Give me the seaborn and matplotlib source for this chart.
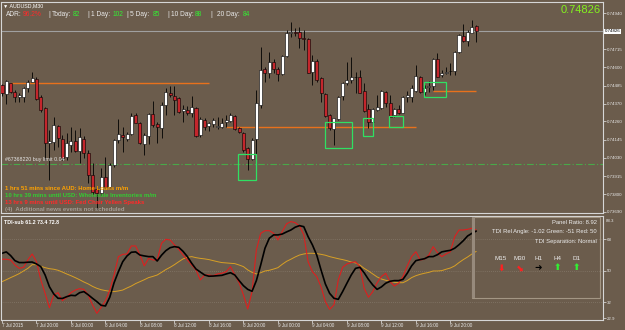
import matplotlib
matplotlib.use("Agg")
import matplotlib.pyplot as plt
from matplotlib.patches import Rectangle
import numpy as np
import seaborn as sns

BG = "#6b5c4c"
FG = "#e8e8e8"

sns.set_theme(style="dark", rc={"axes.facecolor": BG, "figure.facecolor": BG,
                                "axes.edgecolor": "#d6d6d6", "axes.grid": False})
plt.rcParams["font.family"] = ["Liberation Sans", "DejaVu Sans"]

# AUDUSD M30 candles, 7 Jul 2015 16:00 .. 9 Jul 2015 23:00
open_ = [0.74489, 0.74432, 0.74501, 0.74445, 0.74413, 0.74413, 0.74470, 0.74507, 0.74526, 0.74413,
         0.74344, 0.74124, 0.74130, 0.74231, 0.74149, 0.74036, 0.74111, 0.74136, 0.74073, 0.74149,
         0.74061, 0.73922, 0.73834, 0.73809, 0.73910, 0.73847, 0.73985, 0.74143, 0.74174, 0.74149,
         0.74180, 0.74300, 0.74250, 0.74117, 0.74168, 0.74306, 0.74243, 0.74218, 0.74363, 0.74438,
         0.74419, 0.74407, 0.74325, 0.74331, 0.74312, 0.74344, 0.74174, 0.74268, 0.74231, 0.74243,
         0.74224, 0.74224, 0.74256, 0.74262, 0.74294, 0.74218, 0.74187, 0.74092, 0.74023, 0.74149,
         0.74363, 0.74589, 0.74564, 0.74633, 0.74589, 0.74558, 0.74671, 0.74816, 0.74822, 0.74822,
         0.74784, 0.74778, 0.74570, 0.74640, 0.74533, 0.74432, 0.74300, 0.74212, 0.74275, 0.74419,
         0.74501, 0.74520, 0.74536, 0.74539, 0.74451, 0.74338, 0.74256, 0.74331, 0.74344, 0.74445,
         0.74375, 0.74300, 0.74338, 0.74312, 0.74413, 0.74413, 0.74451, 0.74539, 0.74445, 0.74476,
         0.74482, 0.74652, 0.74551, 0.74567, 0.74577, 0.74577, 0.74696, 0.74797, 0.74765, 0.74816,
         0.74860]
high_ = [0.74495, 0.74520, 0.74501, 0.74457, 0.74438, 0.74476, 0.74520, 0.74570, 0.74539, 0.74426,
         0.74350, 0.74206, 0.74287, 0.74237, 0.74174, 0.74187, 0.74224, 0.74206, 0.74218, 0.74168,
         0.74080, 0.73998, 0.73853, 0.73966, 0.74036, 0.73998, 0.74149, 0.74275, 0.74224, 0.74193,
         0.74312, 0.74312, 0.74256, 0.74187, 0.74312, 0.74388, 0.74256, 0.74382, 0.74470, 0.74482,
         0.74482, 0.74413, 0.74363, 0.74356, 0.74419, 0.74350, 0.74287, 0.74281, 0.74256, 0.74281,
         0.74287, 0.74281, 0.74300, 0.74312, 0.74300, 0.74224, 0.74193, 0.74099, 0.74155, 0.74457,
         0.74728, 0.74602, 0.74696, 0.74652, 0.74602, 0.74677, 0.74835, 0.74885, 0.74847, 0.74853,
         0.74835, 0.74784, 0.74677, 0.74652, 0.74539, 0.74438, 0.74306, 0.74281, 0.74419, 0.74507,
         0.74633, 0.74665, 0.74570, 0.74583, 0.74501, 0.74369, 0.74344, 0.74426, 0.74457, 0.74451,
         0.74426, 0.74344, 0.74363, 0.74419, 0.74451, 0.74489, 0.74614, 0.74545, 0.74489, 0.74514,
         0.74658, 0.74690, 0.74583, 0.74602, 0.74627, 0.74702, 0.74809, 0.74872, 0.74835, 0.74897,
         0.74866]
low_ = [0.74419, 0.74369, 0.74438, 0.74382, 0.74382, 0.74382, 0.74445, 0.74507, 0.74394, 0.74319,
        0.74017, 0.73891, 0.74080, 0.74099, 0.74017, 0.74017, 0.74067, 0.74067, 0.73998, 0.74029,
        0.73872, 0.73803, 0.73702, 0.73797, 0.73841, 0.73841, 0.73973, 0.74124, 0.74067, 0.74136,
        0.74174, 0.74250, 0.74117, 0.74048, 0.74117, 0.74224, 0.74124, 0.74155, 0.74300, 0.74413,
        0.74300, 0.74312, 0.74256, 0.74300, 0.74287, 0.74161, 0.74161, 0.74206, 0.74199, 0.74224,
        0.74212, 0.74218, 0.74224, 0.74256, 0.74206, 0.74187, 0.74067, 0.73954, 0.74017, 0.73922,
        0.74344, 0.74507, 0.74533, 0.74564, 0.74514, 0.74551, 0.74665, 0.74790, 0.74797, 0.74721,
        0.74709, 0.74564, 0.74489, 0.74507, 0.74382, 0.74287, 0.74206, 0.74111, 0.74268, 0.74394,
        0.74489, 0.74501, 0.74438, 0.74438, 0.74319, 0.74218, 0.74250, 0.74325, 0.74338, 0.74350,
        0.74287, 0.74287, 0.74306, 0.74312, 0.74382, 0.74382, 0.74445, 0.74438, 0.74426, 0.74445,
        0.74457, 0.74539, 0.74539, 0.74558, 0.74551, 0.74551, 0.74690, 0.74759, 0.74734, 0.74816,
        0.74759]
close_ = [0.74438, 0.74514, 0.74445, 0.74413, 0.74426, 0.74470, 0.74507, 0.74533, 0.74400, 0.74331,
          0.74124, 0.74136, 0.74237, 0.74155, 0.74029, 0.74124, 0.74136, 0.74073, 0.74161, 0.74061,
          0.73922, 0.73815, 0.73809, 0.73910, 0.73847, 0.73985, 0.74143, 0.74180, 0.74161, 0.74180,
          0.74294, 0.74250, 0.74124, 0.74174, 0.74306, 0.74237, 0.74224, 0.74363, 0.74445, 0.74426,
          0.74394, 0.74319, 0.74338, 0.74312, 0.74350, 0.74168, 0.74275, 0.74224, 0.74250, 0.74268,
          0.74231, 0.74250, 0.74268, 0.74300, 0.74212, 0.74193, 0.74080, 0.74023, 0.74143, 0.74375,
          0.74583, 0.74564, 0.74633, 0.74589, 0.74558, 0.74671, 0.74816, 0.74822, 0.74816, 0.74784,
          0.74778, 0.74564, 0.74640, 0.74520, 0.74438, 0.74294, 0.74218, 0.74281, 0.74413, 0.74501,
          0.74520, 0.74539, 0.74539, 0.74438, 0.74325, 0.74256, 0.74338, 0.74350, 0.74451, 0.74375,
          0.74287, 0.74338, 0.74312, 0.74413, 0.74426, 0.74470, 0.74545, 0.74445, 0.74470, 0.74482,
          0.74652, 0.74539, 0.74564, 0.74570, 0.74577, 0.74696, 0.74803, 0.74765, 0.74822, 0.74853,
          0.74826]

# TDI sub-window: price line (red), signal (black), market base (yellow)
tdi_red = [56.7, 56.7, 56.3, 53.4, 51.5, 52.1, 56.3, 59.7, 55.3, 44.9,
           37.2, 29.0, 36.3, 37.6, 33.0, 35.0, 37.6, 39.1, 39.9, 39.5,
           36.3, 30.6, 25.8, 29.2, 33.0, 39.1, 47.7, 58.2, 59.5, 59.7,
           64.3, 64.3, 59.1, 52.9, 57.2, 56.3, 56.3, 65.8, 68.1, 67.7,
           64.9, 62.4, 59.1, 56.3, 53.4, 50.6, 44.9, 47.7, 47.7, 47.3,
           48.3, 48.7, 49.6, 52.5, 47.7, 43.3, 36.3, 28.3, 38.2, 62.0,
           71.5, 73.0, 73.0, 71.5, 67.7, 72.5, 76.9, 78.2, 77.6, 75.7,
           70.6, 55.3, 49.6, 46.8, 41.0, 32.5, 28.1, 30.6, 44.9, 52.1,
           54.0, 54.8, 55.3, 52.5, 40.1, 35.0, 38.2, 43.3, 46.8, 48.7,
           43.9, 41.4, 43.0, 46.8, 52.9, 58.2, 61.0, 56.3, 56.7, 59.1,
           63.9, 60.5, 58.2, 59.7, 61.0, 69.6, 73.4, 73.4, 73.8, 74.4, 73.4]
tdi_black = [60.1, 60.9, 58.8, 55.9, 54.8, 54.8, 55.0, 55.1, 54.0, 52.5,
             47.7, 41.0, 36.9, 34.4, 34.3, 35.3, 36.1, 35.9, 37.6, 38.2,
             36.4, 34.4, 32.5, 30.4, 30.0, 35.0, 43.3, 49.6, 55.3, 58.6,
             60.7, 60.9, 59.1, 58.6, 58.2, 58.2, 55.7, 59.0, 61.6, 63.3,
             63.9, 63.5, 61.2, 58.2, 54.4, 51.1, 49.4, 47.7, 47.0, 47.1,
             47.3, 47.5, 48.3, 49.0, 47.7, 44.5, 41.6, 39.5, 38.4, 44.5,
             53.4, 63.0, 68.7, 70.6, 70.6, 71.1, 72.3, 73.4, 75.0, 75.9,
             75.3, 69.6, 64.9, 59.1, 50.6, 42.6, 37.2, 34.4, 33.8, 38.2,
             43.0, 47.7, 51.5, 52.1, 49.0, 45.2, 42.0, 39.5, 40.9, 43.0,
             44.1, 44.5, 44.5, 45.2, 48.7, 52.9, 55.9, 56.5, 57.0, 58.2,
             58.2, 59.3, 60.9, 61.4, 61.8, 63.0, 65.0, 67.3, 70.0, 71.5, 72.8]
tdi_yellow = [43.9, 45.0, 46.2, 47.3, 48.5, 50.0, 51.5, 53.6, 53.6, 52.7,
              51.9, 51.3, 51.0, 50.4, 49.4, 48.3, 47.3, 46.2, 45.0, 43.7,
              42.6, 41.2, 40.1, 39.3, 38.8, 38.4, 38.2, 38.6, 39.1, 40.3,
              41.4, 42.8, 43.9, 45.0, 46.2, 46.9, 47.7, 49.2, 50.8, 52.1,
              53.6, 55.3, 56.9, 57.8, 58.2, 57.6, 57.2, 56.9, 56.5, 55.9,
              55.3, 54.8, 54.6, 54.4, 54.2, 53.4, 52.5, 50.6, 49.2, 48.3,
              49.0, 50.0, 50.4, 51.1, 51.9, 53.8, 55.5, 56.7, 58.0, 59.1,
              59.7, 60.1, 60.1, 59.9, 59.5, 59.0, 58.2, 57.6, 57.0, 56.5,
              55.9, 55.1, 54.6, 53.4, 51.5, 50.0, 48.3, 46.6, 45.4, 44.7,
              44.1, 43.5, 43.3, 43.3, 44.5, 46.2, 47.3, 48.1, 48.7, 49.2,
              50.0, 50.0, 50.2, 51.0, 51.7, 52.9, 54.8, 56.5, 58.0, 59.7, 61.2]
tdi_levels = [68, 50, 32]

time_ticks = [0, 8, 16, 24, 32, 40, 48, 56, 64, 72, 80, 88, 96, 104]
time_labels = ["7 Jul 2015", "7 Jul 20:00", "8 Jul 00:00", "8 Jul 04:00", "8 Jul 08:00",
               "8 Jul 12:00", "8 Jul 16:00", "8 Jul 20:00", "9 Jul 00:00", "9 Jul 04:00",
               "9 Jul 08:00", "9 Jul 12:00", "9 Jul 16:00", "9 Jul 20:00"]
price_ticks = [0.74940, 0.74715, 0.74600, 0.74485, 0.74370, 0.74260,
               0.74145, 0.74030, 0.73915, 0.73800, 0.73690]
price_labels = ["0.74940", "0.74715", "0.74600", "0.74485", "0.74370", "0.74260",
                "0.74145", "0.74030", "0.73915", "0.73800", "0.73690"]

# horizontal levels (orange), supply/demand boxes (green), pending order
level_price = [0.74499, 0.74226, 0.74451]
level_from = [2, 52, 100]
level_to = [48, 96, 110]
box_from = [54.8, 74.9, 83.8, 89.8, 97.9]
box_to = [59.0, 81.2, 86.1, 93.0, 103.0]
box_top = [0.74054, 0.74256, 0.74281, 0.74294, 0.74507]
box_bottom = [0.73891, 0.74092, 0.74168, 0.74224, 0.74413]
pending_price = 0.73992

news = [("1 hrs 51 mins since AUD: Home Loans m/m", "#ffa200"),
        ("10 hrs 39 mins until USD: Wholesale Inventories m/m", "#33cc33"),
        ("13 hrs 9 mins until USD: Fed Chair Yellen Speaks", "#ff2a2a"),
        ("(4)  Additional news events not scheduled", "#a39c94")]

tf_names = ["M15", "M30", "H1", "H4", "D1"]
tf_arrows = ["\u2b07", "\u2b0a", "\u279c", "\u2b06", "\u2b06"]
tf_colors = ["#ff2020", "#ff2020", "black", "#33ee33", "#33ee33"]

W, H = 625, 330


def fx(px):
    return px / W


def fy(py):
    return 1 - py / H


fig = plt.figure(figsize=(6.25, 3.3), dpi=100)
ax = fig.add_axes([fx(1), fy(213), 602 / W, 211 / H])
ax2 = fig.add_axes([fx(1), fy(320), 602 / W, 104 / H])

bars = np.arange(len(close_))
o, h, l, c = (np.array(v) for v in (open_, high_, low_, close_))

# candles
ax.vlines(bars, l, h, color="black", linewidth=0.6, zorder=3)
ax.bar(bars, np.maximum(np.abs(c - o), 0.00001), bottom=np.minimum(o, c), width=0.7,
       color=np.where(c >= o, "white", "#c4262c"), edgecolor="black", linewidth=0.4, zorder=4)

for p, a, b in zip(level_price, level_from, level_to):
    ax.hlines(p, a, b, color="#e8711c", linewidth=1.0, zorder=2)
for a, b, t, btm in zip(box_from, box_to, box_top, box_bottom):
    ax.add_patch(Rectangle((a, btm), b - a, t - btm, fill=False, edgecolor="#2fe063",
                           linewidth=0.9, zorder=5))
ax.axhline(pending_price, color="#49a84a", linewidth=0.8, linestyle=(0, (6, 2, 1, 2)), zorder=2)
ax.axhline(close_[-1], color="#a0a0a0", linewidth=0.8, zorder=1)

ax.set_xlim(-0.23, 139.4)
ax.set_ylim(0.73683, 0.75011)
ax.yaxis.tick_right()
ax.set_yticks(price_ticks, labels=price_labels)
ax.tick_params(axis="y", right=True, colors=FG, labelsize=3.2, length=2, width=0.5, pad=1)
ax.tick_params(axis="x", bottom=False, labelbottom=False)
ax.text(1.003, close_[-1], f"{close_[-1]:.5f}", transform=ax.get_yaxis_transform(),
        fontsize=3.2, color="black", va="center", ha="left",
        bbox=dict(boxstyle="square,pad=0.15", fc="white", ec="none"))

# TDI sub-window
sns.lineplot(x=bars, y=tdi_yellow, ax=ax2, color="#d8a025", linewidth=0.7)
sns.lineplot(x=bars, y=tdi_red, ax=ax2, color="#dd1f1f", linewidth=0.8)
sns.lineplot(x=bars, y=tdi_black, ax=ax2, color="black", linewidth=1.2)
for lv in tdi_levels:
    ax2.axhline(lv, color="#8f8476", linewidth=0.5, linestyle=(0, (1, 2)), zorder=0)
ax2.set_xlim(-0.23, 139.4)
ax2.set_ylim(22.0, 81.4)
ax2.yaxis.tick_right()
ax2.set_yticks(tdi_levels + [22.9], labels=[str(v) for v in tdi_levels] + ["22.9"])
ax2.tick_params(axis="y", right=True, colors=FG, labelsize=3.2, length=2, width=0.5, pad=1)
ax2.set_xticks(time_ticks, labels=time_labels)
for lab in ax2.get_xticklabels():
    lab.set_ha("left")
ax2.tick_params(axis="x", bottom=True, colors=FG, labelsize=3.3, length=2, width=0.5, pad=0.5)
ax2.set_xlabel("")
ax2.set_ylabel("")
fig.text(fx(606), fy(221), "88.3", fontsize=3.2, color=FG, va="center", ha="left")

for a in (ax, ax2):
    for s in a.spines.values():
        s.set_color("#d6d6d6")
        s.set_linewidth(0.8)

# header texts
fig.text(fx(3), fy(5.5), "\u25bc AUDUSD,M30", fontsize=3.8, color="white", va="center")
header = [("ADR:", 6, FG), ("96.2%", 23, "#ff2a2a"), ("|", 48, FG), ("Today:", 52, FG),
          ("82", 73, "#33ee33"), ("|", 87, FG), ("1 Day:", 91, FG), ("102", 113, "#33ee33"),
          ("|", 126, FG), ("5 Day:", 130, FG), ("85", 153, "#33ee33"), ("|", 167, FG),
          ("10 Day:", 171, FG), ("88", 195, "#33ee33"), ("|", 210, FG), ("20 Day:", 217, FG),
          ("84", 243, "#33ee33")]
for s, x, col in header:
    fig.text(fx(x), fy(14.5), s, fontsize=4.8, color=col, va="center")
fig.text(fx(601), fy(10), f"{close_[-1]:.5f}", fontsize=8, color="#84f21e", ha="right", va="center")

fig.text(fx(5), fy(160), "#67368220 buy limit 0.04", fontsize=3.8, color="#e6e6e6", va="center")
for k, (s, col) in enumerate(news):
    fig.text(fx(5), fy(188 + 7.3 * k), s, fontsize=4.3, color=col, weight="bold", va="center")

fig.text(fx(4), fy(222), f"TDI-sub {tdi_yellow[-1]:.1f} {tdi_red[-1]:.1f} {tdi_black[-1]:.1f}",
         fontsize=3.8, color="white", weight="bold", va="center")

# TDI panel box
fig.add_artist(Rectangle((fx(472), fy(298)), 128 / W, 81 / H, transform=fig.transFigure,
                         fill=False, edgecolor="#a39684", linewidth=0.8))
fig.add_artist(Rectangle((fx(472), fy(298)), 2.5 / W, 81 / H, transform=fig.transFigure,
                         facecolor="#978a7c", edgecolor="none"))
panel_lines = ["Panel Ratio: 8.92", "TDI Rel Angle: -1.02 Green: -51 Red: 50", "TDI Separation: Normal"]
for k, s in enumerate(panel_lines):
    fig.text(fx(597), fy(222 + 9.5 * k), s, fontsize=4.2, color="#ececec", ha="right", va="center")
for k, (name, arr, col) in enumerate(zip(tf_names, tf_arrows, tf_colors)):
    x = 501 + 18.8 * k
    fig.text(fx(x), fy(258), name, fontsize=4.5, color="#ececec", ha="center", va="center")
    fig.text(fx(x), fy(268), arr, fontsize=6.5, color=col, ha="center", va="center",
             family=["DejaVu Sans"], weight="bold")

fig.savefig("out.png", dpi=100, facecolor=BG)
